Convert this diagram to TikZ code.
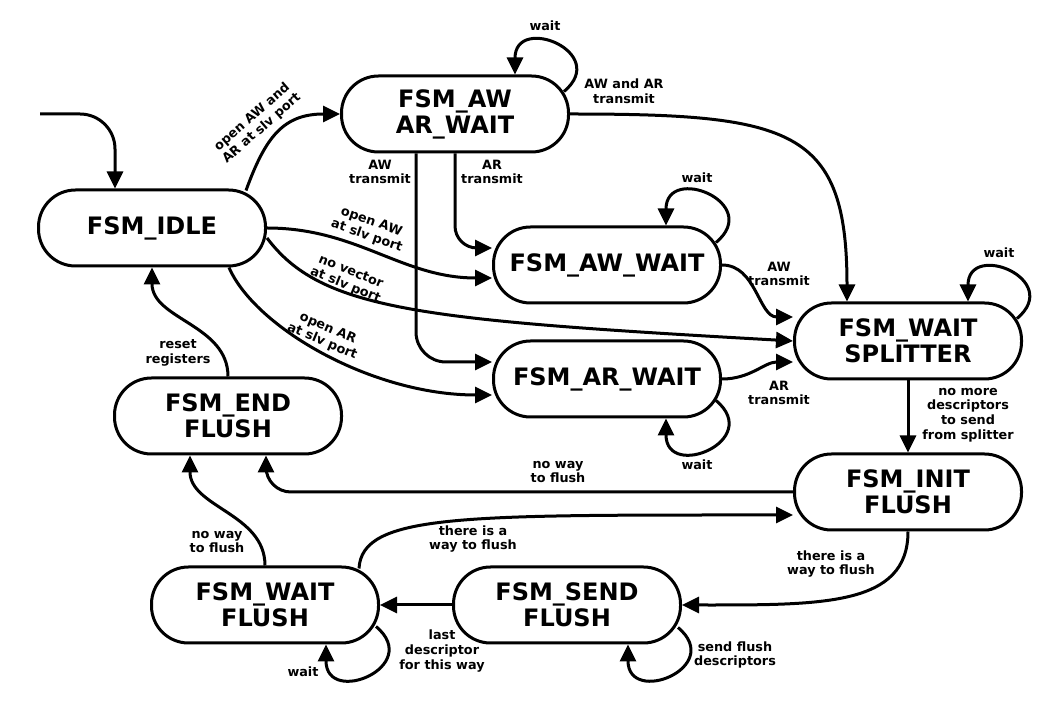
\documentclass[tikz,border=0pt]{standalone}
\usepackage{fontspec}
\setmainfont{DejaVu Sans}
\usetikzlibrary{arrows.meta}
\tikzset{
  fsmstate/.style={draw, line width=3pt, rounded corners=37pt, minimum width=227pt,
                   minimum height=76pt, inner sep=0pt, align=center,
                   font=\bfseries\fontsize{24}{26}\selectfont},
  edgelbl/.style={inner sep=0pt, align=center, font=\bfseries\fontsize{12.8}{14.6}\selectfont},
  trans/.style={line width=3pt, -{Triangle[length=17pt,width=16pt]}},
  loopup/.style={trans, out=40, in=90, looseness=3},
  loopdown/.style={trans, out=-40, in=-90, looseness=3},
}

\begin{document}
\begin{tikzpicture}[x=1pt, y=1pt]
    \useasboundingbox (0,0) rectangle (1060,720);
    \node[fsmstate] (idle)  at (152,492) {FSM\_IDLE};
    \node[fsmstate] (awar)  at (455,606) {FSM\_AW\\AR\_WAIT};
    \node[fsmstate] (aw)    at (607,455) {FSM\_AW\_WAIT};
    \node[fsmstate] (ar)    at (607,341) {FSM\_AR\_WAIT};
    \node[fsmstate] (split) at (908,379) {FSM\_WAIT\\SPLITTER};
    \node[fsmstate] (endf)  at (228,304) {FSM\_END\\FLUSH};
    \node[fsmstate] (initf) at (908,228) {FSM\_INIT\\FLUSH};
    \node[fsmstate] (waitf) at (265,115) {FSM\_WAIT\\FLUSH};
    \node[fsmstate] (sendf) at (567,115) {FSM\_SEND\\FLUSH};
    \coordinate (entry) at (40,606);

    % idle and the channel states
    \draw[trans, rounded corners=35pt] (entry) -| ([xshift=-37pt]idle.north);
    \draw[trans] ([xshift=-21pt,yshift=-2pt]idle.north east) to[out=70, in=180, looseness=1.2] (awar.west);
    \draw[trans] (idle.east) to[out=0, in=180] ([yshift=-13pt]aw.west);
    \draw[trans] ([yshift=-10pt]idle.east) .. controls +(54,-72) and +(-374,21) .. (split.west);
    \draw[trans] ([xshift=-38pt]idle.south east) .. controls +(26,-60) and +(-120,0) .. ([yshift=-16pt]ar.west);
    \draw[trans, rounded corners=22pt] (awar.south) |- ([yshift=17pt]aw.west);
    \draw[trans, rounded corners=30pt] ([xshift=-39pt]awar.south) |- ([yshift=17pt]ar.west);
    \draw[trans] (awar.east) .. controls +(222,0) and +(0,173) .. ([xshift=-61pt]split.north);
    \draw[trans] (aw.east) to[out=0, in=180] ([yshift=24pt]split.west);
    \draw[trans] (ar.east) to[out=0, in=180] ([yshift=-21pt]split.west);
    \draw[loopup] ([xshift=-6pt,yshift=-17pt]awar.north east) to ([xshift=60pt]awar.north);
    \draw[loopup] ([xshift=-6pt,yshift=-17pt]aw.north east) to ([xshift=59pt]aw.north);
    \draw[loopup] ([xshift=-6pt,yshift=-17pt]split.north east) to ([xshift=60pt]split.north);
    \draw[loopdown] ([xshift=-6pt,yshift=18pt]ar.south east) to ([xshift=59pt]ar.south);

    % flush states
    \draw[trans] (split.south) -- (initf.north);
    \draw[trans, rounded corners=25pt] (initf.west) -| ([xshift=38pt]endf.south);
    \draw[trans] ([xshift=-21pt,yshift=-3pt]waitf.north east) .. controls +(3,55) and +(-330,0) .. ([yshift=-23pt]initf.west);
    \draw[trans] (initf.south) .. controls +(0,-75) and +(140,0) .. (sendf.east);
    \draw[trans] (sendf.west) -- (waitf.east);
    \draw[trans] (waitf.north) to[out=90, in=-90] ([xshift=-38pt]endf.south);
    \draw[trans] (endf.north) to[out=90, in=-90] (idle.south);
    \draw[loopdown] ([xshift=-4pt,yshift=18pt]waitf.south east) to ([xshift=61pt]waitf.south);
    \draw[loopdown] ([xshift=-4pt,yshift=17pt]sendf.south east) to ([xshift=61pt]sendf.south);

    \node[edgelbl, rotate=41]  (l-awar)   at (257,597) {open AW and\\AR at slv port};
    \node[edgelbl, rotate=-19] (l-aw)     at (369,491) {open AW\\at slv port};
    \node[edgelbl, rotate=-22] (l-novec)  at (348,441) {no vector\\at slv port};
    \node[edgelbl, rotate=-23] (l-ar)     at (325,385) {open AR\\at slv port};
    \node[edgelbl] (l-awtx)   at (380,548) {AW\\transmit};
    \node[edgelbl] (l-artx)   at (492,548) {AR\\transmit};
    \node[edgelbl] (l-bothtx) at (624,629) {AW and AR\\transmit};
    \node[edgelbl] (l-wait1)  at (545,694) {wait};
    \node[edgelbl] (l-wait2)  at (697,542) {wait};
    \node[edgelbl] (l-awtx2)  at (779,446) {AW\\transmit};
    \node[edgelbl] (l-artx2)  at (779,327) {AR\\transmit};
    \node[edgelbl] (l-wait3)  at (999,467) {wait};
    \node[edgelbl] (l-wait4)  at (697,255) {wait};
    \node[edgelbl] (l-nomore) at (968,305) {no more\\descriptors\\to send\\from splitter};
    \node[edgelbl] (l-noway1) at (558,248) {no way\\to flush};
    \node[edgelbl] (l-reset)  at (178,367) {reset\\registers};
    \node[edgelbl] (l-noway2) at (217,178) {no way\\to flush};
    \node[edgelbl] (l-way1)   at (473,181) {there is a\\way to flush};
    \node[edgelbl] (l-way2)   at (831,156) {there is a\\way to flush};
    \node[edgelbl] (l-last)   at (442,69)  {last\\descriptor\\for this way};
    \node[edgelbl] (l-wait5)  at (303,48)  {wait};
    \node[edgelbl] (l-send)   at (735,65)  {send flush\\descriptors};
\end{tikzpicture}
\end{document}
